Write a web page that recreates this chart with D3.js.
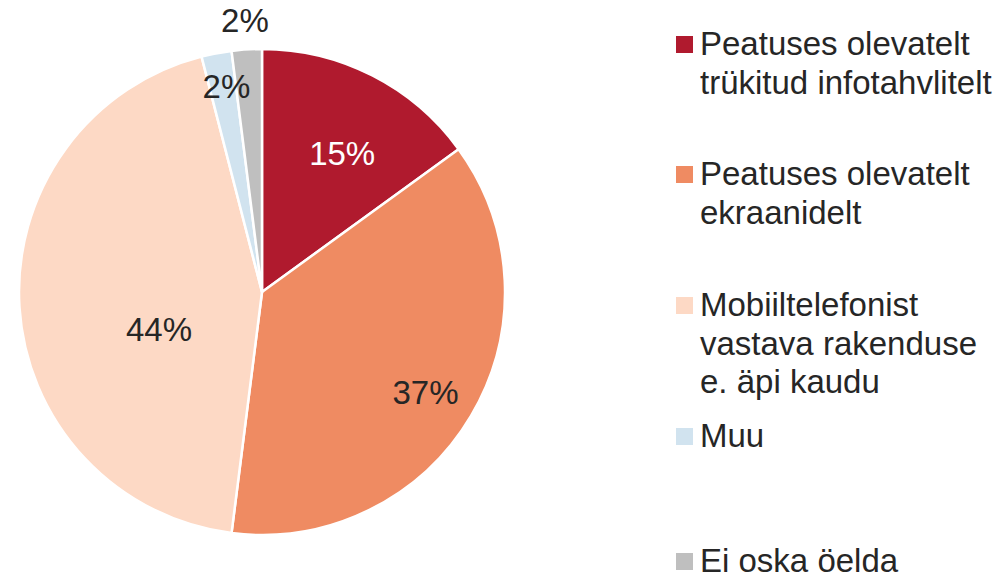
<!DOCTYPE html>
<html>
<head>
<meta charset="utf-8">
<script src="https://cdn.jsdelivr.net/npm/d3@7"></script>
<style>
  body { margin: 0; background: #fff; }
  svg { display: block; font-family: "Liberation Sans", Arial, sans-serif; }
</style>
</head>
<body>
<svg id="chart" width="1005" height="580"></svg>
<script>
// data
const categories = [
  'Peatuses olevatelt trükitud infotahvlitelt',
  'Peatuses olevatelt ekraanidelt',
  'Mobiiltelefonist vastava rakenduse e. äpi kaudu',
  'Muu',
  'Ei oska öelda'
]
const values = [15, 37, 44, 2, 2]
const legendLines = [
  ['Peatuses olevatelt', 'trükitud infotahvlitelt'],
  ['Peatuses olevatelt', 'ekraanidelt'],
  ['Mobiiltelefonist', 'vastava rakenduse', 'e. äpi kaudu'],
  ['Muu'],
  ['Ei oska öelda']
]
const colors = ['#b01a2e', '#ef8b62', '#fdd9c5', '#d1e3ef', '#bfbfbf']
const labelColors = ['#ffffff', '#262626', '#262626', '#262626', '#262626']

// label placement like the original (radius fraction, angle nudge in degrees)
const labelPlace = [[0.66, 3], [0.79, 1], [0.45, -16], [0.86, 1], [1.12, 0]]

const svg = d3.select('#chart')
const cx = 262
const cy = 292
const radius = 243
const fontSize = 33

const data = categories.map((c, i) => ({ name: c, value: values[i], i }))

const pie = d3.pie().sort(null).value(d => d.value)
const arcs = pie(data)
const arc = d3.arc().innerRadius(0).outerRadius(radius)

const g = svg.append('g').attr('transform', `translate(${cx},${cy})`)

g.selectAll('path.slice')
  .data(arcs)
  .enter()
  .append('path')
  .attr('class', 'slice')
  .attr('d', arc)
  .attr('fill', d => colors[d.data.i])
  .attr('stroke', '#fff')
  .attr('stroke-width', 2.5)
  .attr('stroke-linejoin', 'round')

g.selectAll('text.pct')
  .data(arcs)
  .enter()
  .append('text')
  .attr('class', 'pct')
  .attr('transform', d => {
    const [f, nudge] = labelPlace[d.data.i]
    const a = (d.startAngle + d.endAngle) / 2 + nudge * Math.PI / 180
    const r = radius * f
    return `translate(${r * Math.sin(a)},${-r * Math.cos(a)})`
  })
  .attr('text-anchor', 'middle')
  .attr('dy', '0.36em')
  .attr('font-size', fontSize)
  .attr('fill', d => labelColors[d.data.i])
  .text(d => d.data.value + '%')

// legend
const legendX = 676
const itemBaselines = [55, 185, 316, 447, 572]
const lineStep = 38.5

const legend = svg.append('g').attr('class', 'legend')
const items = legend.selectAll('g.item')
  .data(data)
  .enter()
  .append('g')
  .attr('class', 'item')
  .attr('transform', (d, i) => `translate(${legendX},${itemBaselines[i]})`)

items.append('rect')
  .attr('x', 0)
  .attr('y', -19)
  .attr('width', 17)
  .attr('height', 17)
  .attr('fill', d => colors[d.i])

items.each(function (d) {
  const t = d3.select(this).append('text')
    .attr('x', 24)
    .attr('y', 0)
    .attr('font-size', fontSize)
    .attr('fill', '#262626')
  legendLines[d.i].forEach((line, k) => {
    t.append('tspan')
      .attr('x', 24)
      .attr('y', k * lineStep)
      .text(line)
  })
})
</script>
</body>
</html>
